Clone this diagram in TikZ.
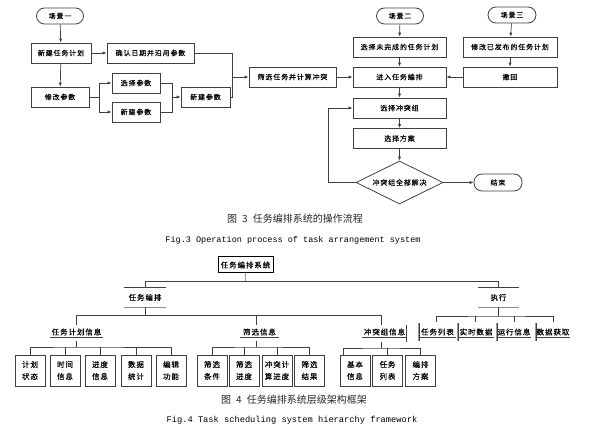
\documentclass[tikz,border=0pt]{standalone}
\usepackage{fontspec}
\setmonofont{Liberation Mono}
\newfontfamily\cjk[LetterSpace=12, FakeBold=0.15]{Noto Sans CJK SC}
\newfontfamily\cjkcap{Noto Sans CJK SC}
\usetikzlibrary{shapes.geometric,arrows.meta}
\begin{document}
\begin{tikzpicture}[x=1pt,y=-1pt,
  line/.style={draw=black!75, line width=0.7pt},
  arr/.style={line, -{Latex[length=4pt,width=3.2pt]}},
  box/.style={draw=black!75, line width=0.8pt, minimum height=20pt, inner sep=0pt,
    font=\cjk\fontsize{7}{8}\selectfont, fill=white},
  term/.style={box, rounded corners=8pt, minimum height=16pt},
  dec/.style={box, diamond, aspect=2, minimum width=87pt, minimum height=43pt},
  leaf/.style={box, minimum width=30pt, minimum height=31pt, align=center,
    font=\cjk\fontsize{7.5}{12}\selectfont},
  lab/.style={inner sep=0pt, minimum height=10pt, font=\cjk\fontsize{7.5}{9}\selectfont},
  toplab/.style={inner sep=0pt, minimum height=19pt, font=\cjk\fontsize{7.5}{9}\selectfont},
  captxt/.style={font=\cjkcap\fontsize{10}{12}\selectfont, text=black!85},
  eng/.style={font=\ttfamily\fontsize{8.5}{10}\selectfont}]
\useasboundingbox (0,0) rectangle (592,435);
% ---------------- Figure 3 ----------------
\node[term, minimum width=47pt] (s1) at (60,16) {场景一};
\node[box, minimum width=60pt] (n1) at (61,53) {新建任务计划};
\node[box, minimum width=87pt] (n2) at (150.5,53) {确认日期并沿用参数};
\node[box, minimum width=58pt] (n3) at (60,97) {修改参数};
\node[box, minimum width=48pt] (n4) at (136,83) {选择参数};
\node[box, minimum width=48pt] (n5) at (136,112) {新建参数};
\node[box, minimum width=49pt] (n6) at (205.5,97) {新建参数};
\node[box, minimum width=87pt] (n7) at (292.5,77) {筛选任务并计算冲突};
\node[term, minimum width=47pt] (s2) at (400,16) {场景二};
\node[term, minimum width=48pt] (s3) at (512,15) {场景三};
\node[box, minimum width=93pt] (m1) at (399.5,47) {选择未完成的任务计划};
\node[box, minimum width=94pt] (m2) at (510,47) {修改已发布的任务计划};
\node[box, minimum width=93pt] (m3) at (399.5,77) {进入任务编排};
\node[box, minimum width=94pt] (m4) at (510,77) {撤回};
\node[box, minimum width=93pt] (m5) at (399.5,108) {选择冲突组};
\node[box, minimum width=93pt] (m6) at (399.5,138.5) {选择方案};
\node[dec] (d) at (399.5,182.5) {冲突组全部解决};
\node[term, minimum width=48pt, minimum height=17pt] (e) at (498,182.5) {结束};
\coordinate (j1) at (99,97);
\coordinate (j2) at (172,97);
\coordinate (j3) at (232,77);
\coordinate (j4) at (328,182.5);
\draw[arr] (s1) -- (n1);
\draw[arr] (n1) -- (n2);
\draw[arr] (n1) -- (n3);
\draw[line] (n3.east) -- (j1);
\draw[arr] (j1) |- (n4.west);
\draw[arr] (j1) |- (n5.west);
\draw[line] (n4.east) -| (j2);
\draw[line] (n5.east) -| (j2);
\draw[arr] (j2) -- (n6.west);
\draw[line] (n2.east) -| (j3);
\draw[line] (n6.east) -| (j3);
\draw[arr] (j3) -- (n7.west);
\draw[arr] (n7) -- (m3);
\draw[arr] (s2) -- (m1);
\draw[arr] (m1) -- (m3);
\draw[arr] (m3) -- (m5);
\draw[arr] (m5) -- (m6);
\draw[arr] (m6) -- (d);
\draw[arr] (s3) -- (m2);
\draw[arr] (m2) -- (m4);
\draw[arr] (m4) -- (m3);
\draw[arr] (d) -- (e);
\draw[line] (d.west) -- (j4);
\draw[arr] (j4) |- (m5.west);
\node[captxt] (cap3) at (295,219) {图\hspace{5pt}3\hspace{5pt}任务编排系统的操作流程};
\node[eng] (fig3) at (293,240) {Fig.3 Operation process of task arrangement system};
% ---------------- Figure 4 ----------------
\node[box, draw=black, line width=1pt, minimum width=55pt, minimum height=16pt,
  font=\cjk\fontsize{7.5}{9}\selectfont] (root) at (245.5,265) {任务编排系统};
\node[toplab, minimum width=42pt] (A) at (145,297.5) {任务编排};
\node[toplab, minimum width=41pt] (B) at (498.5,297.5) {执行};
\draw[line] (A.north west) -- (A.north east);
\draw[line] (B.north west) -- (B.north east);
\draw[draw=black!45, line width=1.2pt] (A.south west) -- (A.south east);
\draw[draw=black!45, line width=1.2pt] (B.south west) -- (B.south east);
\coordinate (h0) at (245.5,282);
\draw[line, draw=black!40] (root.south) -- (h0);
\draw[line] (A.north) -- ++(0,-6) -| (B.north);
% level 2 under 任务编排
\node[lab, minimum width=53pt] (c1) at (76.5,332) {任务计划信息};
\node[lab, minimum width=39pt] (c2) at (259.5,332) {筛选信息};
\node[lab, minimum width=45pt] (c3) at (384.5,332) {冲突组信息};
\foreach \n in {c1,c2,c3} \draw[line] (\n.south west) -- (\n.south east);
\coordinate (t1) at (145,315);
\draw[line] (A.south) -- (t1);
\draw[line] ([shift={(0,-2)}]c1.north) |- (t1);
\draw[line] (t1) -| ([shift={(-3.5,-2)}]c3.north);
\draw[line] ([shift={(-3.5,-2)}]c2.north) -- ([shift={(-3.5,-12)}]c2.north);
\draw[line] ([shift={(-1,-2)}]c3.north east) -- ([shift={(-1,5)}]c3.south east);
% level 2 under 执行
\node[lab, minimum width=36pt] (x1) at (437.5,332) {任务列表};
\node[lab, minimum width=35pt] (x2) at (476,332) {实时数据};
\node[lab, minimum width=33pt] (x3) at (514,332) {运行信息};
\node[lab, minimum width=33pt] (x4) at (553,332) {数据获取};
\coordinate (t2) at (498.5,316);
\draw[line] (B.south) -- (t2);
\draw[line] ([shift={(-1.5,-5)}]x1.north) |- (t2) -| ([shift={(0,-5)}]x4.north);
\draw[line] ([shift={(-0.5,-5)}]x2.north) -- ([shift={(-0.5,-11)}]x2.north);
\draw[line] ([shift={(0,-5)}]x3.north) -- ([shift={(0,-11)}]x3.north);
\foreach \n in {x1,x2,x3,x4} {
  \draw[line] (\n.south west) -- (\n.south east);
  \draw[draw=black!40, line width=1.2pt] ([shift={(-1,-4)}]\n.north west) -- ([shift={(-1,4)}]\n.south west);
  \draw[line, line width=0.5pt] ([shift={(0.3,-4)}]\n.north west) -- ([shift={(0.3,4)}]\n.south west);
}
% level 3 under 任务计划信息
\node[leaf] (p1) at (30,370.5) {计划\\状态};
\node[leaf] (p2) at (65,370.5) {时间\\信息};
\node[leaf] (p3) at (100,370.5) {进度\\信息};
\node[leaf] (p4) at (136,370.5) {数据\\统计};
\node[leaf] (p5) at (171,370.5) {编辑\\功能};
\coordinate (u1) at (76.5,347);
\draw[line, shorten <=4pt] (c1.south) -- (u1);
\draw[line] (p1.north) |- (u1) -| (p5.north);
\foreach \n in {p2,p3,p4} \draw[line] (\n.north) -- ++(0,-8);
% level 3 under 筛选信息
\node[leaf] (q1) at (212,370.5) {筛选\\条件};
\node[leaf] (q2) at (244,370.5) {筛选\\进度};
\node[leaf] (q3) at (277,370.5) {冲突计\\算进度};
\node[leaf] (q4) at (309.5,370.5) {筛选\\结果};
\coordinate (u2) at (256,347);
\draw[line, shorten <=4pt] ([xshift=-3.5pt]c2.south) -- (u2);
\draw[line] (q1.north) |- (u2) -| (q4.north);
\foreach \n in {q2,q3} \draw[line] (\n.north) -- ++(0,-8);
% level 3 under 冲突组信息
\node[leaf] (r1) at (355,370.5) {基本\\信息};
\node[leaf] (r2) at (387.5,370.5) {任务\\列表};
\node[leaf] (r3) at (420.5,370.5) {编排\\方案};
\coordinate (u3) at (381,348);
\draw[line, shorten <=5pt] ([xshift=-3.5pt]c3.south) -- (u3);
\draw[line] ([xshift=-12pt]r1.north) |- (u3) -| (r3.north);
\draw[line] (r2.north) -- ++(0,-7);
\node[captxt] (cap4) at (294,400) {图\hspace{5pt}4\hspace{5pt}任务编排系统层级架构框架};
\node[eng, font=\ttfamily\fontsize{8.7}{10}\selectfont] (fig4) at (292,420) {Fig.4 Task scheduling system hierarchy framework};
\end{tikzpicture}
\end{document}
